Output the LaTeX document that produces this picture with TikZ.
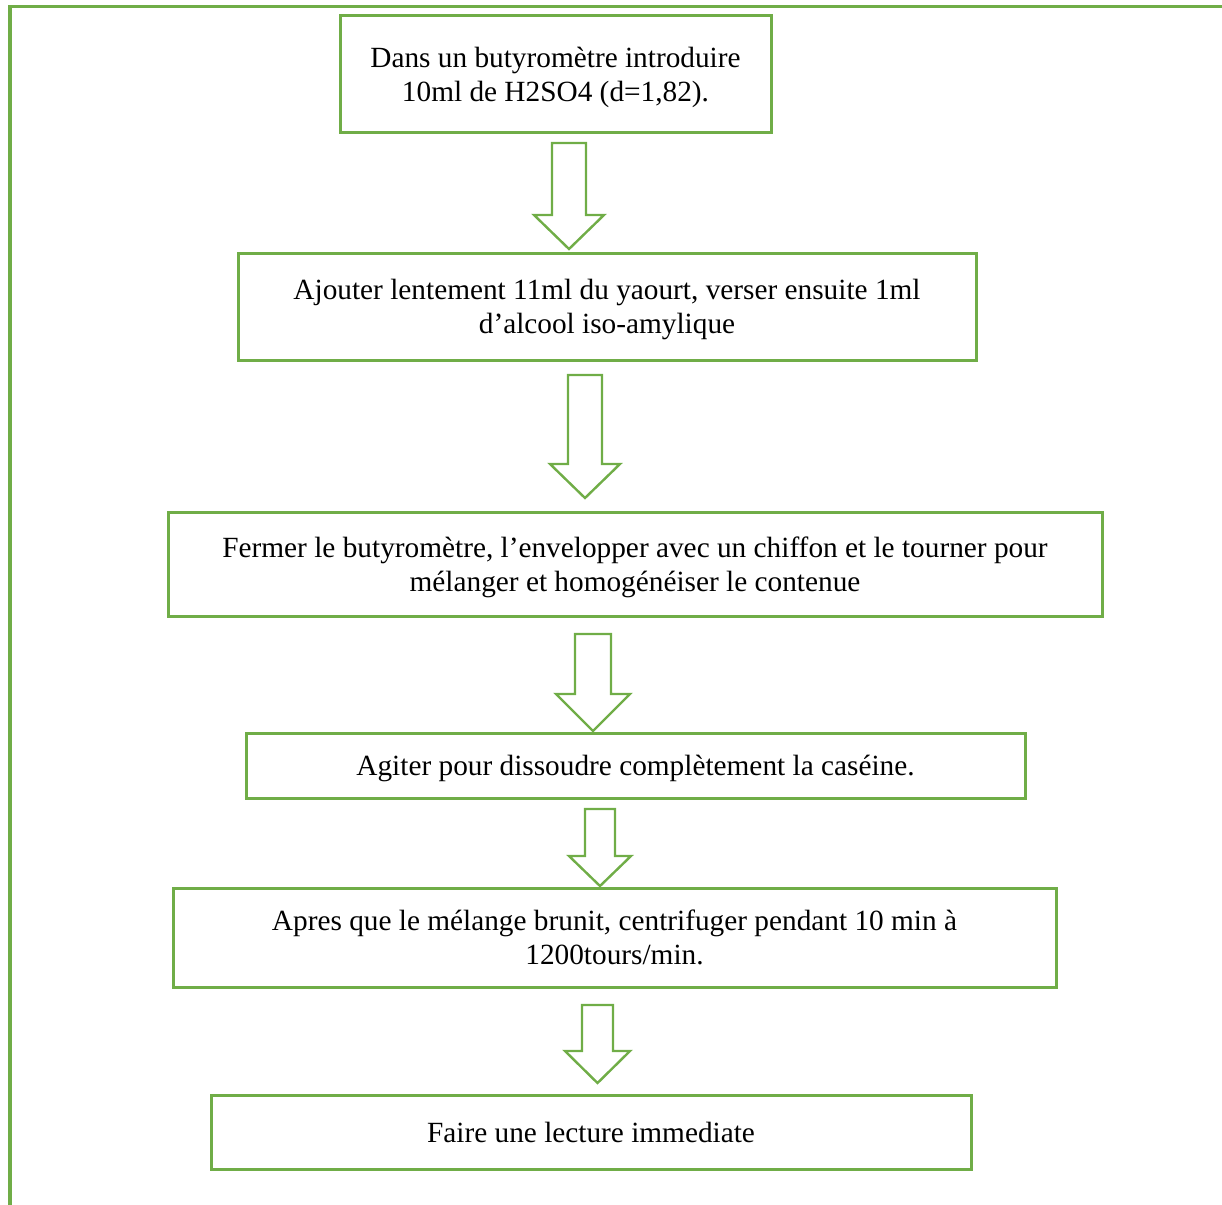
\documentclass[tikz,border=0pt]{standalone}
\usepackage{fontspec}
\setmainfont{Liberation Serif}
\usepackage{xcolor}
\usepackage{tikz}
\usetikzlibrary{arrows.meta,positioning}

\definecolor{officegreen}{HTML}{70AD47}

% block arrow pointing down: x, top, wing y, tip y, half shaft, half head
\newcommand{\blockarrow}[6]{%
  \draw[officegreen,line width=2.4pt,line join=miter]
    (#1-#5,#2) -- (#1+#5,#2) -- (#1+#5,#3) -- (#1+#6,#3) -- (#1,#4)
    -- (#1-#6,#3) -- (#1-#5,#3) -- cycle;}

\begin{document}
\begin{tikzpicture}[x=1pt,y=-1pt,
  every node/.style={font=\fontsize{29.3}{34}\selectfont,align=center},
  stepbox/.style={draw=officegreen,line width=3pt,inner sep=0pt,text depth=0pt}]
\useasboundingbox (0,0) rectangle (1222,1204);
% outer frame
\draw[officegreen,line width=3.5pt] (10,1210) -- (10,6.5) -- (1230,6.5);

\node[stepbox,minimum width=431pt,minimum height=116pt] (b1) at (555.5,74)
  {Dans un butyromètre introduire\\10ml de H2SO4 (d=1,82).};
\node[stepbox,minimum width=738pt,minimum height=107pt] (b2) at (607,306.5)
  {Ajouter lentement 11ml du yaourt, verser ensuite 1ml\\d’alcool iso-amylique};
\node[stepbox,minimum width=934pt,minimum height=104pt] (b3) at (635,564)
  {Fermer le butyromètre, l’envelopper avec un chiffon et le tourner pour\\mélanger et homogénéiser le contenue};
\node[stepbox,minimum width=779pt,minimum height=65pt] (b4) at (635.5,765.5)
  {Agiter pour dissoudre complètement la caséine.};
\node[stepbox,minimum width=883pt,minimum height=99pt] (b5) at (614.5,937.5)
  {Apres que le mélange brunit, centrifuger pendant 10 min à\\1200tours/min.};
\node[stepbox,minimum width=760pt,minimum height=74pt] (b6) at (591,1132)
  {Faire une lecture immediate};

\blockarrow{569}{143}{215}{249}{17}{35}
\blockarrow{585}{375}{464}{498}{17}{35}
\blockarrow{593}{634}{694}{731}{18}{37}
\blockarrow{600}{809}{856}{886}{15}{31}
\blockarrow{597.5}{1005}{1051}{1083}{15.5}{32.5}
\end{tikzpicture}
\end{document}
